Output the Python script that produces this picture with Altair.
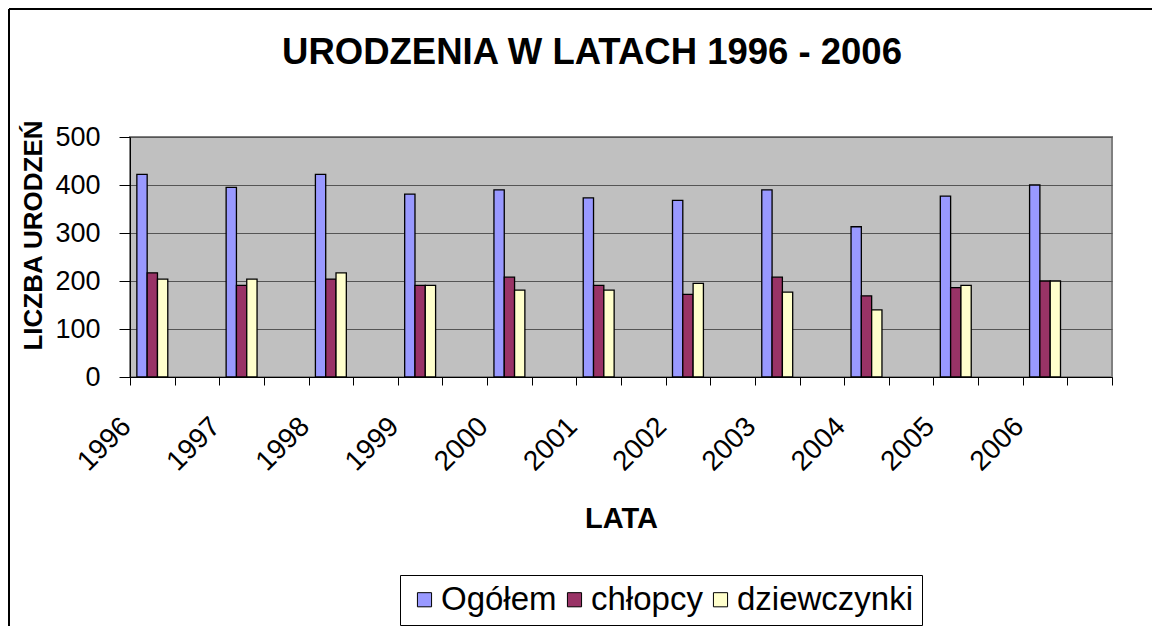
import altair as alt
import pandas as pd

years = ["1996", "1997", "1998", "1999", "2000", "2001", "2002", "2003", "2004", "2005", "2006"]
series = ["Ogółem", "chłopcy", "dziewczynki"]
ogolem = [422, 395, 422, 381, 390, 373, 368, 390, 313, 377, 400]
chlopcy = [217, 191, 204, 191, 208, 191, 172, 208, 169, 186, 200]
dziewczynki = [204, 204, 217, 191, 181, 181, 195, 177, 140, 191, 200]
colors = ["#9999FF", "#993366", "#FFFFCC"]
y_ticks = [0, 100, 200, 300, 400, 500]

# each year occupies a slot followed by an empty slot (as in the original sheet)
slots = []
for y in years:
    slots += [y, y + "_"]

rows = []
for name, vals in zip(series, [ogolem, chlopcy, dziewczynki]):
    for y, v in zip(years, vals):
        rows.append({"slot": y, "seria": name, "value": v})
df = pd.DataFrame(rows)

FONT = "Liberation Sans"

bars = alt.Chart(df).mark_bar(stroke="black", strokeWidth=1.3).encode(
    x=alt.X(
        "slot:N",
        scale=alt.Scale(domain=slots, paddingInner=0, paddingOuter=0),
        axis=alt.Axis(
            title="LATA",
            labelAngle=-45,
            labelAlign="right",
            labelBaseline="middle",
            labelExpr="indexof(datum.label, '_') >= 0 ? '' : datum.label",
            labelFont=FONT,
            labelFontSize=28,
            labelColor="black",
            labelPadding=37,
            labelOffset=-26,
            tickBand="extent",
            tickSize=8,
            tickColor="black",
            domainColor="black",
            titleFont=FONT,
            titleFontSize=29,
            titleFontWeight="bold",
            titleColor="black",
            titleX=491,
            titleY=150,
            titleAlign="center",
            titleBaseline="alphabetic",
            grid=False,
        ),
    ),
    xOffset=alt.XOffset(
        "seria:N",
        sort=series,
        scale=alt.Scale(domain=series, paddingInner=0, paddingOuter=0.665),
    ),
    y=alt.Y(
        "value:Q",
        scale=alt.Scale(domain=[0, 500]),
        axis=alt.Axis(
            title="LICZBA URODZEŃ",
            values=y_ticks,
            labelFont=FONT,
            labelFontSize=27,
            labelColor="black",
            labelPadding=19,
            tickSize=11,
            tickColor="black",
            domainColor="black",
            grid=True,
            gridColor="#555555",
            gridWidth=1,
            titleFont=FONT,
            titleFontSize=26,
            titleFontWeight="bold",
            titleColor="black",
            titleX=-97,
            titleY=98,
            titleAngle=270,
            titleAlign="center",
            titleBaseline="middle",
        ),
    ),
    color=alt.Color(
        "seria:N",
        sort=series,
        scale=alt.Scale(domain=series, range=colors),
        legend=alt.Legend(
            title=None,
            orient="none",
            legendX=270,
            legendY=438,
            direction="horizontal",
            strokeColor="black",
            fillColor="white",
            padding=8,
            symbolType="square",
            symbolSize=200,
            symbolStrokeColor="black",
            symbolStrokeWidth=1,
            symbolOpacity=1,
            labelFont=FONT,
            labelFontSize=33,
            labelColor="black",
            labelOffset=0,
            labelLimit=400,
            columnPadding=1,
        ),
    ),
)

frame_df = pd.DataFrame({"k": [0]})
frame_left = alt.Chart(frame_df).mark_rule(color="black", strokeWidth=2).encode(
    x=alt.value(-121), y=alt.value(-128), y2=alt.value(489)
)
frame_top = alt.Chart(frame_df).mark_rule(color="black", strokeWidth=2).encode(
    x=alt.value(-121), x2=alt.value(1022), y=alt.value(-128)
)

chart = alt.layer(bars, frame_left, frame_top).properties(
    width=982,
    height=240,
    title=alt.TitleParams(
        "URODZENIA W LATACH 1996 - 2006",
        font=FONT,
        fontSize=36.5,
        fontWeight="bold",
        color="black",
        anchor="middle",
        baseline="alphabetic",
        dx=-29,
        dy=92,
        offset=0,
    ),
    background="white",
    autosize=alt.AutoSizeParams(type="none"),
    padding={"left": 122, "top": 129, "right": 40, "bottom": 249},
).configure_view(
    fill="#C0C0C0",
    stroke="#808080",
    strokeWidth=2,
)

chart.save("out.html", embed_options={"renderer": "svg", "actions": False})
